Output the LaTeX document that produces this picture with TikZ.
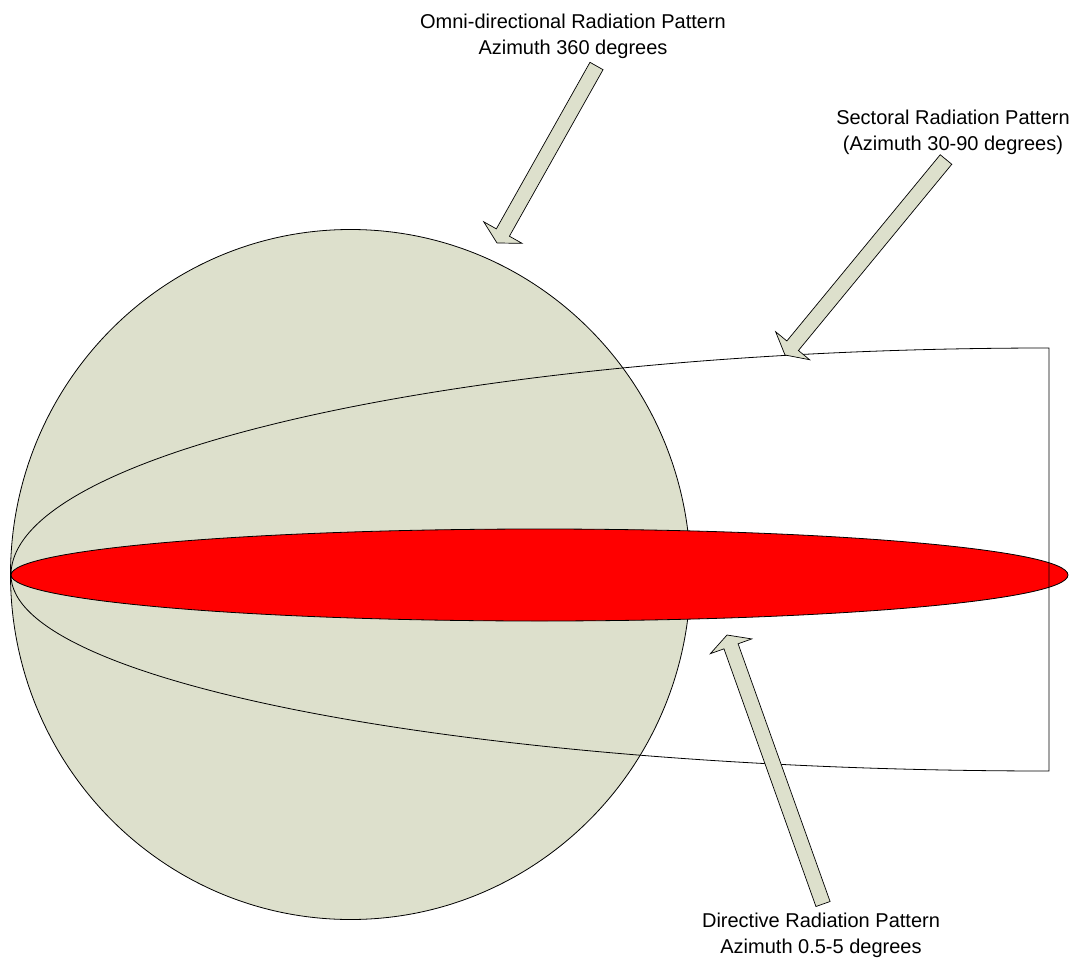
\documentclass[tikz,border=0pt]{standalone}
\usepackage{fontspec}
\setmainfont{Liberation Sans}
\usetikzlibrary{calc}
\definecolor{olivefill}{RGB}{221,224,204}
\definecolor{beamred}{RGB}{255,0,0}
\tikzset{
  shapeline/.style={draw=black, line width=0.8pt},
  blockarrow/.style={draw=black, line width=0.7pt, fill=olivefill, line join=miter},
  lbl/.style={align=center, font=\fontsize{20}{26}\selectfont, inner sep=0pt, anchor=base}
}
\newcommand{\blockarr}[2]{%
  \coordinate (hb) at ($(#2)!12pt!(#1)$);
  \filldraw[blockarrow] ($(#1)!7.5pt!90:(#2)$) -- ($(hb)!7.5pt!90:(#2)$) -- ($(hb)!22pt!90:(#2)$) -- (#2)
    -- ($(hb)!22pt!-90:(#2)$) -- ($(hb)!7.5pt!-90:(#2)$) -- ($(#1)!7.5pt!-90:(#2)$) -- cycle;%
}
\begin{document}
\begin{tikzpicture}[x=1pt,y=-1pt]
\useasboundingbox (0,0) rectangle (1089,960);
% omni-directional pattern
\filldraw[shapeline, fill=olivefill] (350.5,574.5) ellipse [x radius=340pt, y radius=345pt];
% directive pattern
\filldraw[shapeline, fill=beamred] (539.5,575) ellipse [x radius=528.5pt, y radius=46pt];
% sectoral pattern
\coordinate (origin) at (11,575);
\draw[shapeline] (origin) arc [start angle=180, end angle=90, x radius=1038pt, y radius=227pt]
  -- (1049,771) arc [start angle=270, end angle=180, x radius=1038pt, y radius=196pt];
% labels (anchor base = baseline of last line)
\node[lbl] (omni) at (573,55) {Omni-directional Radiation Pattern\\Azimuth 360 degrees};
\node[lbl] (sect) at (953,151) {Sectoral Radiation Pattern\\(Azimuth 30-90 degrees)};
\node[lbl] (dir) at (821,953) {Directive Radiation Pattern\\Azimuth 0.5-5 degrees};
% arrows
\coordinate (omniTail) at (596.5,66);
\coordinate (omniTip) at (497,243);
\coordinate (sectTail) at (946,159.5);
\coordinate (sectTip) at (785,355);
\coordinate (dirTail) at (823,904);
\coordinate (dirTip) at (727,635);
\blockarr{omniTail}{omniTip}
\blockarr{sectTail}{sectTip}
\blockarr{dirTail}{dirTip}
\end{tikzpicture}
\end{document}
